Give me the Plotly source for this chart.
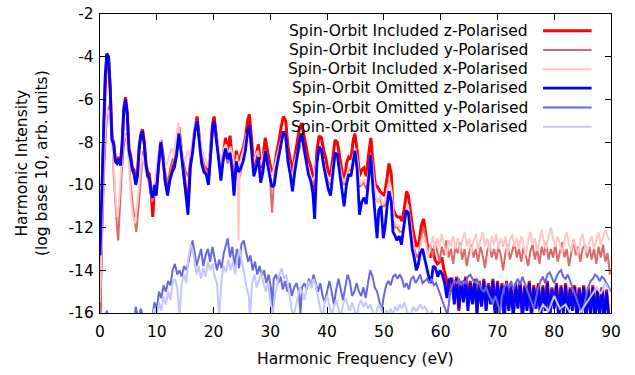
import plotly.graph_objects as go

# ---------------- data (eV, log10 intensity) ----------------
soi_z = [(0, -16), (0.2, -12.5), (0.5, -9), (0.9, -5.5), (1.2, -3.9), (1.5, -4.0), (1.8, -5.5), (2.1, -7.8),
         (2.4, -8.0), (2.7, -8.8), (3.0, -8.9), (3.3, -8.7), (3.6, -9.0), (3.9, -8.0), (4.2, -6.4), (4.5, -5.9),
         (4.8, -6.6), (5.1, -8.3), (5.4, -8.6), (5.7, -9.2), (6.0, -9.3), (6.3, -9.8), (6.6, -9.5), (6.9, -8.2),
         (7.2, -7.6), (7.5, -7.4), (7.8, -8.0), (8.1, -9.0), (8.4, -9.4), (8.7, -9.5), (9.0, -10.3), (9.3, -11.5),
         (9.6, -10.0), (9.9, -10.4), (10.3, -9.0), (10.7, -7.9), (11.1, -8.6), (11.5, -9.8), (11.9, -10.3),
         (12.3, -9.6), (12.7, -9.2), (13.1, -9.0), (13.5, -8.4), (13.9, -7.3), (14.3, -8.3), (14.7, -9.4),
         (15.1, -10.2), (15.5, -11.0), (15.9, -9.0), (16.3, -8.3), (16.7, -7.4), (17.1, -6.8), (17.5, -7.8),
         (17.9, -8.8), (18.3, -9.2), (18.7, -9.2), (19.1, -9.8), (19.5, -8.5), (19.8, -7.2), (20.1, -6.8),
         (20.5, -7.6), (20.9, -8.6), (21.3, -9.5), (21.7, -8.6), (22.1, -7.8), (22.5, -8.4), (22.9, -7.7),
         (23.3, -8.8), (23.6, -10.3), (24.0, -8.4), (24.4, -8.9), (24.8, -8.6), (25.2, -8.3), (25.6, -7.8),
         (26.0, -7.0), (26.3, -6.7), (26.7, -7.8), (27.1, -9.1), (27.5, -8.6), (27.9, -8.1), (28.3, -9.2),
         (28.7, -8.8), (29.1, -7.8), (29.5, -8.5), (29.9, -9.0), (30.3, -9.4), (30.7, -9.3), (31.1, -8.5),
         (31.5, -8.0), (31.9, -7.3), (32.3, -6.8), (32.7, -7.0), (33.1, -8.2), (33.5, -8.8), (33.9, -9.5),
         (34.3, -8.7), (34.7, -8.0), (35.1, -7.4), (35.5, -7.1), (35.9, -7.6), (36.3, -8.2), (36.7, -8.8),
         (37.1, -9.1), (37.5, -9.6), (37.8, -10.3), (38.2, -8.4), (38.6, -7.7), (39.0, -7.8), (39.4, -8.4),
         (39.8, -8.8), (40.2, -9.4), (40.6, -9.6), (41.0, -8.6), (41.4, -7.9), (41.8, -8.0), (42.2, -8.7),
         (42.6, -9.3), (43.0, -10.0), (43.4, -9.0), (43.8, -8.7), (44.2, -8.8), (44.6, -7.9), (44.9, -7.6),
         (45.3, -8.4), (45.7, -9.6), (46.1, -9.3), (46.5, -9.2), (46.9, -9.6), (47.3, -8.6), (47.7, -7.8),
         (48.1, -9.0), (48.5, -10.0), (48.9, -10.1), (49.3, -10.3), (49.7, -10.4), (50.1, -10.5), (50.5, -9.8),
         (50.9, -9.0), (51.3, -9.5), (51.6, -11.1), (52.0, -11.4), (52.4, -11.5), (52.8, -11.5), (53.2, -11.7),
         (53.6, -11.1), (54.0, -10.3), (54.3, -10.5), (54.7, -11.4), (55.0, -11.9), (55.4, -12.5), (55.8, -12.9),
         (56.2, -12.7), (56.6, -11.9), (57.0, -11.6), (57.4, -12.3), (57.8, -13.1), (58.2, -13.4), (58.6, -13.0),
         (59.0, -13.5), (59.4, -13.7), (59.8, -13.6), (60.2, -13.4), (60.6, -14.0), (61.0, -14.4), (61.4, -15.0),
         (61.8, -14.4),
         (62.0, -14.4), (62.4, -15.4), (62.8, -14.3), (63.2, -15.9), (63.6, -14.5), (64.0, -15.4), (64.4, -14.3),
         (64.8, -15.7), (65.2, -14.5), (65.6, -15.5), (66.0, -14.4), (66.4, -16.0), (66.8, -14.5), (67.2, -15.6),
         (67.6, -14.4), (68.0, -15.8), (68.4, -14.6), (68.8, -15.5), (69.2, -14.4), (69.6, -15.9), (70.0, -14.5),
         (70.4, -15.7), (70.8, -14.6), (71.2, -16.2), (71.6, -14.5), (72.0, -15.8), (72.4, -14.7), (72.8, -16.0),
         (73.2, -14.6), (73.6, -15.7), (74.0, -14.5), (74.4, -16.1), (74.8, -14.7), (75.2, -15.8), (75.6, -14.5),
         (76.0, -16.0), (76.4, -14.7), (76.8, -15.7), (77.2, -14.6), (77.6, -16.1), (78.0, -14.7), (78.4, -15.8),
         (78.8, -14.5), (79.2, -16.2), (79.6, -14.8), (80.0, -15.7), (80.4, -14.6), (80.8, -16.1), (81.2, -14.7),
         (81.6, -15.9), (82.0, -14.6), (82.4, -16.0), (82.8, -14.8), (83.2, -15.8), (83.6, -14.7), (84.0, -16.1),
         (84.4, -14.8), (84.8, -15.9), (85.2, -14.7), (85.6, -16.1), (86.0, -14.8), (86.4, -16.0), (86.8, -14.7),
         (87.2, -16.2), (87.6, -14.9), (88.0, -16.0), (88.4, -14.8), (88.8, -16.1), (89.2, -14.9), (89.6, -16.0)]

soi_y = [(0, -16), (0.3, -13.0), (0.7, -9.5), (1.1, -7.3), (1.5, -6.4), (1.8, -6.2), (2.1, -7.0), (2.4, -9.5),
         (2.7, -11.0), (3.0, -12.0), (3.2, -12.6), (3.5, -11.0), (3.8, -9.5), (4.2, -8.2), (4.6, -7.6), (5.0, -8.4),
         (5.4, -10.0), (5.8, -11.0), (6.2, -11.8), (6.4, -12.2), (6.8, -11.0), (7.2, -9.5), (7.6, -8.4), (8.0, -9.0),
         (8.4, -9.6), (8.8, -10.2), (9.2, -10.8), (9.6, -10.5), (10.0, -10.0), (10.4, -9.0), (10.8, -8.2),
         (11.2, -8.9), (11.6, -9.6), (12.0, -9.8), (12.4, -9.2), (12.8, -8.8), (13.2, -8.9), (13.6, -8.0),
         (13.9, -7.4), (14.3, -8.4), (14.7, -9.0), (15.1, -9.4), (15.5, -9.6), (15.9, -8.8), (16.3, -8.2),
         (16.7, -7.6), (17.1, -7.1), (17.5, -7.9), (17.9, -8.6), (18.3, -9.0), (18.7, -9.3), (19.1, -9.9),
         (19.5, -8.8), (19.8, -7.6), (20.1, -7.2), (20.5, -7.9), (20.9, -8.6), (21.3, -9.4), (21.7, -8.9),
         (22.1, -8.6), (22.5, -9.0), (22.9, -8.5), (23.3, -9.0), (23.6, -9.6), (24.0, -9.0), (24.4, -9.8),
         (24.8, -9.4), (25.2, -8.9), (25.6, -8.4), (26.0, -7.6), (26.3, -7.4), (26.7, -8.4), (27.1, -9.4),
         (27.5, -9.0), (27.9, -8.8), (28.3, -9.5), (28.7, -9.2), (29.1, -8.6), (29.5, -9.0), (29.9, -9.5),
         (30.3, -11.3), (30.7, -9.6), (31.1, -9.0), (31.5, -8.7), (31.9, -8.1), (32.3, -7.6), (32.7, -7.8),
         (33.1, -8.8), (33.5, -9.2), (33.9, -9.8), (34.3, -9.2), (34.7, -8.8), (35.1, -8.3), (35.5, -7.9),
         (35.9, -8.4), (36.3, -8.9), (36.7, -9.3), (37.1, -9.6), (37.5, -10.0), (37.8, -9.8), (38.2, -8.9),
         (38.6, -8.3), (39.0, -8.5), (39.4, -9.0), (39.8, -9.4), (40.2, -9.8), (40.6, -10.0), (41.0, -9.2),
         (41.4, -8.6), (41.8, -8.6), (42.2, -9.2), (42.6, -9.7), (43.0, -10.0), (43.4, -9.6), (43.8, -9.3),
         (44.2, -9.3), (44.6, -8.7), (44.9, -8.4), (45.3, -9.1), (45.7, -10.1), (46.1, -10.0), (46.5, -9.9),
         (46.9, -10.2), (47.3, -9.4), (47.7, -8.7), (48.1, -9.6), (48.5, -10.6), (48.9, -10.8), (49.3, -10.6),
         (49.7, -11.0), (50.1, -11.0), (50.5, -10.4), (50.9, -9.8), (51.3, -10.2), (51.6, -11.6), (52.0, -12.0),
         (52.4, -12.0), (52.8, -12.2), (53.2, -12.2), (53.6, -11.8), (54.0, -11.0), (54.3, -11.2), (54.7, -12.0),
         (55.0, -12.6), (55.4, -13.0), (55.8, -13.4), (56.2, -13.2), (56.6, -12.4), (57.0, -12.0), (57.4, -12.5),
         (57.8, -13.2), (58.2, -12.8), (58.6, -13.4), (59.0, -12.7), (59.4, -13.1), (59.8, -13.6), (60.2, -12.9),
         (60.6, -13.3), (61.0, -12.6), (61.4, -13.4), (61.8, -13.0), (62.2, -13.7), (62.6, -12.9), (63.0, -13.2),
         (63.4, -12.7), (63.8, -13.5), (64.2, -13.0), (64.6, -13.8), (65.0, -13.2), (65.4, -12.8), (65.8, -13.4),
         (66.2, -13.0), (66.6, -13.6), (67.0, -12.9), (67.4, -13.3), (67.8, -13.9), (68.2, -13.1), (68.6, -12.8),
         (69.0, -13.4), (69.4, -13.0), (69.8, -13.5), (70.2, -12.9), (70.6, -13.3), (71.0, -14.0), (71.4, -13.2),
         (71.8, -12.8), (72.2, -13.5), (72.6, -13.1), (73.0, -12.7), (73.4, -13.4), (73.8, -13.0), (74.2, -13.6),
         (74.6, -12.9), (75.0, -13.3), (75.4, -13.8), (75.8, -13.1), (76.2, -12.8), (76.6, -13.5), (77.0, -13.0),
         (77.4, -13.7), (77.8, -12.9), (78.2, -13.3), (78.6, -12.7), (79.0, -13.5), (79.4, -13.0), (79.8, -13.4),
         (80.2, -12.8), (80.6, -13.6), (81.0, -13.1), (81.4, -12.7), (81.8, -13.4), (82.2, -13.0), (82.6, -13.8),
         (83.0, -13.1), (83.4, -12.6), (83.8, -13.3), (84.2, -12.9), (84.6, -13.6), (85.0, -13.0), (85.4, -12.8),
         (85.8, -13.4), (86.2, -12.9), (86.6, -13.5), (87.0, -13.0), (87.4, -13.7), (87.8, -12.9), (88.2, -13.4),
         (88.6, -12.8), (89.0, -13.6), (89.4, -13.2), (89.8, -14.2)]

soi_x = [(0, -15.5), (0.3, -12.0), (0.7, -8.5), (1.1, -6.8), (1.5, -6.5), (1.8, -6.8), (2.1, -7.8), (2.4, -9.0),
         (2.7, -10.5), (3.0, -11.5), (3.3, -11.0), (3.6, -9.5), (3.9, -8.5), (4.3, -7.6), (4.7, -7.8), (5.1, -9.0),
         (5.4, -10.5), (5.8, -11.5), (6.2, -11.8), (6.6, -10.8), (7.0, -9.5), (7.4, -8.6), (7.8, -9.0), (8.2, -9.4),
         (8.6, -9.8), (9.0, -10.4), (9.4, -10.2), (9.8, -9.5), (10.2, -8.6), (10.6, -7.9), (11.0, -8.5),
         (11.4, -9.2), (11.8, -9.0), (12.2, -8.6), (12.6, -8.3), (13.0, -8.6), (13.4, -7.8), (13.8, -7.1),
         (14.2, -8.0), (14.6, -8.6), (15.0, -8.9), (15.4, -8.4), (15.8, -8.7), (16.2, -8.0), (16.6, -7.4),
         (17.0, -7.0), (17.4, -7.6), (17.8, -8.2), (18.2, -8.6), (18.6, -8.8), (19.0, -9.2), (19.4, -8.4),
         (19.8, -7.4), (20.2, -7.3), (20.6, -7.8), (21.0, -8.4), (21.4, -9.0), (21.8, -8.3), (22.2, -8.1),
         (22.6, -8.6), (23.0, -8.2), (23.4, -8.8), (23.8, -9.2), (24.2, -8.6), (24.4, -12.6), (24.6, -9.0),
         (25.0, -8.6), (25.4, -8.2), (25.8, -7.6), (26.2, -7.5), (26.6, -8.2), (27.0, -9.0), (27.4, -8.6),
         (27.8, -8.4), (28.2, -9.1), (28.6, -8.8), (29.0, -8.4), (29.4, -8.8), (29.8, -9.2), (30.2, -9.6),
         (30.6, -9.3), (31.0, -8.8), (31.4, -8.4), (31.8, -8.0), (32.2, -7.7), (32.6, -7.9), (33.0, -8.7),
         (33.4, -9.1), (33.8, -10.0), (34.2, -9.0), (34.6, -8.6), (35.0, -8.2), (35.4, -8.0), (35.8, -8.4),
         (36.2, -8.8), (36.6, -9.2), (37.0, -9.5), (37.4, -9.8), (37.8, -9.6), (38.2, -8.8), (38.6, -8.3),
         (39.0, -8.5), (39.4, -9.0), (39.8, -9.4), (40.2, -9.7), (40.6, -9.9), (41.0, -9.1), (41.4, -8.5),
         (41.8, -8.6), (42.2, -9.2), (42.6, -9.6), (43.0, -9.9), (43.4, -9.5), (43.8, -9.2), (44.2, -9.2),
         (44.6, -8.6), (45.0, -8.3), (45.4, -9.0), (45.8, -10.0), (46.2, -9.8), (46.6, -9.8), (47.0, -10.0),
         (47.4, -9.2), (47.8, -8.6), (48.2, -9.6), (48.6, -10.6), (49.0, -10.8), (49.4, -10.5), (49.8, -10.9),
         (50.2, -10.8), (50.6, -10.2), (51.0, -9.8), (51.4, -10.4), (51.8, -11.6), (52.2, -11.9), (52.6, -11.9),
         (53.0, -12.0), (53.4, -12.0), (53.8, -11.4), (54.2, -10.9), (54.6, -11.6), (55.0, -12.4), (55.4, -13.2),
         (55.8, -14.0), (56.2, -13.5), (56.6, -12.6), (57.0, -12.4), (57.4, -12.8), (57.8, -13.4), (58.2, -12.9),
         (58.6, -12.4), (59.0, -13.0), (59.4, -12.5), (59.8, -12.9), (60.2, -12.3), (60.6, -12.8), (61.0, -13.3),
         (61.4, -12.6), (61.8, -12.9), (62.2, -12.4), (62.6, -13.0), (63.0, -12.5), (63.4, -13.1), (63.8, -12.6),
         (64.2, -12.2), (64.6, -12.9), (65.0, -12.5), (65.4, -13.2), (65.8, -12.6), (66.2, -12.3), (66.6, -13.0),
         (67.0, -12.6), (67.4, -12.2), (67.8, -12.9), (68.2, -12.5), (68.6, -13.1), (69.0, -12.4), (69.4, -12.8),
         (69.8, -12.3), (70.2, -13.0), (70.6, -12.5), (71.0, -12.9), (71.4, -12.4), (71.8, -13.2), (72.2, -12.6),
         (72.6, -12.3), (73.0, -12.9), (73.4, -12.5), (73.8, -13.0), (74.2, -12.4), (74.6, -12.8), (75.0, -13.3),
         (75.4, -12.6), (75.8, -12.2), (76.2, -12.8), (76.6, -12.5), (77.0, -13.1), (77.4, -12.6), (77.8, -12.1),
         (78.2, -12.7), (78.6, -13.0), (79.0, -12.4), (79.4, -12.0), (79.8, -12.5), (80.2, -12.9), (80.6, -12.4),
         (81.0, -12.8), (81.4, -13.2), (81.8, -12.6), (82.2, -12.2), (82.6, -12.8), (83.0, -13.1), (83.4, -12.5),
         (83.8, -12.9), (84.2, -13.3), (84.6, -12.6), (85.0, -12.3), (85.4, -12.9), (85.8, -13.2), (86.2, -12.7),
         (86.6, -12.4), (87.0, -13.0), (87.4, -12.6), (87.8, -12.2), (88.2, -12.8), (88.6, -12.5), (89.0, -12.1),
         (89.4, -12.4), (89.8, -12.6)]

soo_z = [(0, -13.3), (0.3, -10.5), (0.6, -7.5), (0.9, -5.0), (1.2, -3.85), (1.5, -4.0), (1.8, -5.5), (2.1, -7.9),
         (2.4, -8.1), (2.7, -8.9), (3.0, -9.0), (3.3, -8.8), (3.6, -9.1), (3.9, -8.2), (4.2, -6.5), (4.5, -6.0),
         (4.8, -6.7), (5.1, -8.4), (5.4, -8.8), (5.7, -9.3), (6.0, -9.5), (6.3, -10.0), (6.6, -9.6), (6.9, -8.3),
         (7.2, -7.7), (7.5, -7.5), (7.8, -8.1), (8.1, -9.1), (8.4, -9.6), (8.7, -9.7), (9.0, -10.4), (9.3, -10.6),
         (9.6, -10.0), (9.9, -10.5), (10.3, -9.1), (10.7, -8.0), (11.1, -8.8), (11.5, -9.9), (11.9, -10.5),
         (12.3, -9.8), (12.7, -9.4), (13.1, -9.2), (13.5, -8.6), (13.9, -7.6), (14.3, -8.5), (14.7, -9.6),
         (15.1, -10.4), (15.5, -11.4), (15.9, -9.2), (16.3, -8.5), (16.7, -7.5), (17.1, -7.0), (17.5, -8.0),
         (17.9, -9.0), (18.3, -9.4), (18.7, -9.5), (19.1, -10.0), (19.5, -8.7), (19.8, -7.4), (20.1, -7.0),
         (20.5, -7.8), (20.9, -8.8), (21.3, -9.8), (21.7, -8.8), (22.1, -8.3), (22.5, -8.8), (22.9, -8.5),
         (23.3, -9.4), (23.6, -10.5), (24.0, -8.9), (24.4, -9.4), (24.8, -9.2), (25.2, -8.9), (25.6, -8.4),
         (26.0, -7.5), (26.3, -7.2), (26.7, -8.4), (27.1, -9.6), (27.5, -9.2), (27.9, -8.7), (28.3, -9.9),
         (28.7, -9.4), (29.1, -8.4), (29.5, -9.1), (29.9, -9.6), (30.3, -10.1), (30.7, -10.0), (31.1, -9.2),
         (31.5, -8.6), (31.9, -8.0), (32.3, -7.5), (32.7, -7.7), (33.1, -8.9), (33.5, -9.5), (33.9, -10.3),
         (34.3, -9.4), (34.7, -8.6), (35.1, -8.0), (35.5, -7.6), (35.9, -8.2), (36.3, -8.9), (36.7, -9.5),
         (37.1, -9.8), (37.5, -10.4), (37.8, -11.6), (38.2, -9.0), (38.6, -8.2), (39.0, -8.4), (39.4, -9.1),
         (39.8, -9.6), (40.2, -10.2), (40.6, -10.5), (41.0, -9.4), (41.4, -8.5), (41.8, -8.6), (42.2, -9.4),
         (42.6, -10.1), (43.0, -11.0), (43.4, -10.0), (43.8, -9.5), (44.2, -9.6), (44.6, -8.8), (44.9, -8.4),
         (45.3, -9.3), (45.7, -11.4), (46.1, -10.8), (46.5, -10.6), (46.9, -10.9), (47.3, -9.6), (47.7, -8.6),
         (48.1, -10.3), (48.5, -11.6), (48.8, -12.5), (49.1, -11.2), (49.5, -11.0), (49.9, -12.5), (50.2, -12.0),
         (50.6, -10.9), (50.9, -10.3), (51.3, -10.8), (51.6, -12.2), (52.0, -12.4), (52.3, -12.6), (52.7, -12.4),
         (53.1, -12.8), (53.5, -12.0), (53.9, -11.2), (54.3, -11.3), (54.6, -12.2), (55.0, -13.0), (55.4, -13.5),
         (55.7, -14.0), (56.0, -13.8), (56.4, -13.2), (56.8, -13.0), (57.1, -13.4), (57.5, -13.9), (57.9, -14.3),
         (58.3, -14.6), (58.7, -13.8), (59.1, -13.9), (59.5, -14.3), (59.9, -14.0), (60.3, -14.2), (60.7, -14.6),
         (61.1, -15.3), (61.5, -14.4),
         (62.0, -14.5), (62.4, -15.6), (62.8, -14.4), (63.2, -15.8), (63.6, -14.6), (64.0, -15.5), (64.4, -14.4),
         (64.8, -15.9), (65.2, -14.6), (65.6, -15.6), (66.0, -14.5), (66.4, -16.0), (66.8, -14.6), (67.2, -15.7),
         (67.6, -14.5), (68.0, -15.9), (68.4, -14.7), (68.8, -15.6), (69.2, -14.5), (69.6, -16.1), (70.0, -14.6),
         (70.4, -15.8), (70.8, -14.7), (71.2, -16.3), (71.6, -14.6), (72.0, -15.9), (72.4, -14.8), (72.8, -16.2),
         (73.2, -14.7), (73.6, -15.8), (74.0, -14.6), (74.4, -16.3), (74.8, -14.8), (75.2, -15.9), (75.6, -14.6),
         (76.0, -16.2), (76.4, -14.8), (76.8, -15.8), (77.2, -14.7), (77.6, -16.3), (78.0, -14.8), (78.4, -15.9),
         (78.8, -14.6), (79.2, -16.2), (79.6, -14.9), (80.0, -15.8), (80.4, -14.7), (80.8, -16.3), (81.2, -14.8),
         (81.6, -16.0), (82.0, -14.7), (82.4, -16.2), (82.8, -14.9), (83.2, -15.9), (83.6, -14.8), (84.0, -16.3),
         (84.4, -14.9), (84.8, -16.0), (85.2, -14.8), (85.6, -16.3), (86.0, -14.9), (86.4, -16.1), (86.8, -14.8),
         (87.2, -16.3), (87.6, -15.0), (88.0, -16.1), (88.4, -14.9), (88.8, -16.3), (89.2, -15.0), (89.6, -16.2)]

soo_y = [(0, -17), (0.8, -16.3), (1.2, -15.9), (1.6, -16.3), (2.0, -17), (5.8, -17), (6.3, -15.7), (6.7, -16.3),
         (7.2, -15.8), (7.7, -16.3), (8.4, -17), (9.2, -16.2), (9.6, -15.5), (10.0, -15.8), (10.4, -15.0),
         (10.8, -15.3), (11.2, -14.7), (11.6, -15.0), (12.0, -14.5), (12.4, -14.7), (12.8, -14.0), (13.2, -13.7),
         (13.6, -14.2), (14.0, -14.0), (14.4, -14.3), (14.8, -13.8), (15.2, -14.0), (15.6, -13.6), (16.0, -13.0),
         (16.3, -12.6), (16.7, -13.2), (17.0, -13.8), (17.4, -13.4), (17.8, -13.0), (18.2, -13.8), (18.6, -13.3),
         (19.0, -13.0), (19.4, -13.6), (19.8, -12.9), (20.2, -13.4), (20.6, -14.0), (21.0, -13.5), (21.4, -13.9),
         (21.8, -13.2), (22.2, -12.8), (22.5, -12.5), (22.9, -13.4), (23.3, -12.9), (23.7, -13.8), (24.1, -13.0),
         (24.5, -13.9), (24.9, -12.8), (25.3, -12.6), (25.7, -13.2), (26.1, -13.6), (26.5, -13.3), (26.9, -14.0),
         (27.3, -13.6), (27.7, -14.2), (28.1, -13.8), (28.5, -14.3), (28.9, -14.0), (29.3, -14.6), (29.7, -14.2),
         (30.1, -14.8), (30.3, -16.0), (30.6, -14.4), (31.0, -14.2), (31.4, -14.6), (31.8, -14.3), (32.2, -14.9),
         (32.6, -14.5), (33.0, -15.0), (33.4, -14.6), (33.8, -15.2), (34.2, -14.8), (34.6, -14.6), (35.0, -15.0),
         (35.3, -16.0), (35.6, -14.8), (36.0, -14.6), (36.4, -14.9), (36.8, -14.4), (37.2, -14.8), (37.6, -14.2),
         (38.0, -14.6), (38.4, -15.0), (38.8, -14.6), (39.2, -15.2), (39.6, -15.5), (40.0, -14.9), (40.4, -14.5),
         (40.8, -15.0), (41.2, -15.6), (41.6, -14.9), (42.0, -14.4), (42.4, -14.9), (42.8, -15.4), (43.2, -14.8),
         (43.6, -14.2), (44.0, -14.5), (44.4, -15.2), (44.8, -15.0), (45.2, -14.6), (45.6, -15.0), (46.0, -15.2),
         (46.4, -14.8), (46.8, -15.3), (47.2, -14.6), (47.6, -14.0), (48.0, -14.3), (48.4, -14.8), (48.8, -15.0),
         (49.2, -15.4), (49.6, -15.9), (50.0, -15.2), (50.4, -14.7), (50.8, -14.5), (51.2, -14.7), (51.6, -14.3),
         (52.0, -14.2), (52.4, -14.4), (52.8, -14.2), (53.2, -14.4), (53.6, -14.8), (54.0, -14.6), (54.4, -14.9),
         (54.8, -14.4), (55.2, -14.3), (55.6, -14.6), (56.0, -14.4), (56.4, -14.2), (56.8, -14.6), (57.2, -14.5),
         (57.6, -14.4), (58.0, -14.6), (58.4, -14.4), (58.8, -14.7), (59.2, -14.6), (59.6, -14.9), (60.0, -15.2),
         (60.4, -15.5), (60.8, -15.9), (61.2, -16.1), (61.6, -15.2), (62.0, -14.7), (62.4, -14.5), (62.8, -14.6),
         (63.2, -14.4), (63.6, -14.7), (64.0, -14.5), (64.4, -14.6), (64.8, -14.3), (65.2, -14.2), (65.6, -14.4),
         (66.0, -14.6), (66.4, -14.4), (66.8, -14.7), (67.2, -14.9), (67.6, -15.0), (68.0, -14.8), (68.4, -15.1),
         (68.8, -15.3), (69.2, -15.6), (69.6, -15.2), (70.0, -15.5), (70.4, -16.1), (70.8, -15.2), (71.2, -14.8),
         (71.6, -14.6), (72.0, -14.8), (72.4, -14.5), (72.8, -14.9), (73.2, -14.6), (73.6, -14.4), (74.0, -14.7),
         (74.4, -14.3), (74.8, -14.6), (75.2, -14.9), (75.6, -15.2), (76.0, -15.5), (76.4, -15.8), (76.8, -15.3),
         (77.2, -14.8), (77.6, -14.5), (78.0, -14.3), (78.4, -14.6), (78.8, -14.2), (79.2, -14.1), (79.6, -14.4),
         (80.0, -14.6), (80.4, -14.3), (80.8, -14.1), (81.2, -14.0), (81.6, -14.3), (82.0, -14.4), (82.4, -14.2),
         (82.8, -14.5), (83.2, -14.8), (83.6, -15.0), (84.0, -15.3), (84.4, -15.6), (84.8, -16.0), (85.2, -15.7),
         (85.6, -15.2), (86.0, -14.8), (86.4, -14.5), (86.8, -14.4), (87.2, -14.2), (87.6, -14.3), (88.0, -14.5),
         (88.4, -14.3), (88.8, -14.4), (89.2, -14.6), (89.6, -14.8), (90.0, -15.0)]

soo_x = [(9.0, -16.5), (9.6, -15.8), (10.0, -16.2), (10.4, -15.5), (10.8, -15.9), (11.2, -15.2), (11.6, -15.6),
         (12.0, -15.0), (12.4, -15.4), (12.8, -14.6), (13.2, -14.4), (13.6, -14.8), (14.0, -16.2), (14.4, -14.6),
         (14.8, -14.2), (15.2, -14.6), (15.6, -13.4), (16.0, -12.8), (16.3, -13.0), (16.7, -13.8), (17.0, -14.2),
         (17.4, -13.8), (17.8, -14.4), (18.2, -13.9), (18.6, -14.3), (19.0, -13.6), (19.4, -14.0), (19.8, -13.7),
         (20.2, -14.3), (20.6, -14.6), (21.0, -16.2), (21.4, -14.4), (21.8, -13.8), (22.2, -14.1), (22.6, -13.5),
         (23.0, -14.0), (23.4, -13.6), (23.8, -14.2), (24.2, -13.4), (24.6, -13.0), (25.0, -13.6), (25.4, -14.2),
         (25.8, -14.8), (26.2, -15.2), (26.4, -16.2), (26.8, -14.6), (27.2, -14.2), (27.6, -14.8), (28.0, -14.4),
         (28.4, -14.1), (28.8, -14.6), (29.2, -15.0), (29.6, -14.6), (30.0, -15.3), (30.4, -16.2), (30.8, -15.2),
         (31.2, -14.6), (31.6, -14.2), (32.0, -13.9), (32.4, -14.4), (32.8, -14.2), (33.2, -14.8), (33.6, -15.5),
         (34.0, -16.2), (34.4, -15.8), (34.8, -15.2), (35.2, -14.8), (35.6, -15.0), (36.0, -15.4), (36.4, -14.8),
         (36.8, -14.5), (37.2, -14.8), (37.6, -14.4), (38.0, -14.7), (38.4, -15.3), (38.8, -15.8), (39.2, -16.2),
         (39.6, -15.5), (40.0, -15.2), (40.4, -15.6), (40.8, -16.1), (41.2, -15.7), (41.6, -15.4), (42.0, -15.8),
         (42.4, -16.2), (42.8, -15.6), (43.2, -15.3), (43.6, -15.6), (44.0, -15.9), (44.4, -15.5), (44.8, -15.8),
         (45.2, -16.2), (45.6, -15.6), (46.0, -15.4), (46.4, -15.7), (46.8, -15.5), (47.2, -15.8), (47.6, -15.6),
         (48.0, -15.9), (48.4, -16.3), (48.8, -15.8), (49.2, -15.6), (49.6, -15.9), (50.0, -16.3), (50.4, -15.9),
         (50.8, -16.0), (51.2, -15.8), (51.6, -16.1), (52.0, -15.7), (52.4, -15.9), (52.8, -15.6), (53.2, -15.8),
         (53.6, -15.5), (54.0, -15.8), (54.4, -16.2), (54.8, -16.0), (55.2, -15.7), (55.6, -15.9), (56.0, -15.8),
         (56.4, -15.6), (56.8, -15.8), (57.2, -15.7), (57.6, -15.9), (58.0, -16.2), (58.4, -15.9), (58.8, -16.3),
         (59.2, -17.0), (76.0, -17.0), (77.0, -16.2), (78.0, -15.6), (79.0, -15.9), (80.0, -15.2), (81.0, -15.8),
         (82.0, -15.6), (83.0, -16.1), (84.0, -16.3), (85.0, -15.8), (86.0, -15.4), (87.0, -15.0), (87.5, -14.8),
         (88.2, -15.1), (89.0, -14.6), (89.8, -15.0)]

series_names = ["Spin-Orbit Included z-Polarised", "Spin-Orbit Included y-Polarised",
                "Spin-Orbit Included x-Polarised", "Spin-Orbit Omitted z-Polarised",
                "Spin-Orbit Omitted y-Polarised", "Spin-Orbit Omitted x-Polarised"]
series_data = [soi_z, soi_y, soi_x, soo_z, soo_y, soo_x]
x_ticks = [0, 10, 20, 30, 40, 50, 60, 70, 80, 90]
y_ticks = [-2, -4, -6, -8, -10, -12, -14, -16]

# ---------------- styling ----------------
colors = ["#ff0000", "#dc6868", "#ffc6c6", "#0000ff", "#6868dc", "#c6c6ff"]
widths = [3.0, 2.0, 2.0, 2.8, 2.0, 2.0]
FONT = "DejaVu Sans"
FS = 15.5

fig = go.Figure()
for name, data, c, w in zip(series_names, series_data, colors, widths):
    xs = [p[0] for p in data]
    ys = [p[1] for p in data]
    fig.add_trace(go.Scatter(x=xs, y=ys, mode="lines", name=name,
                             line=dict(color=c, width=w), showlegend=False))

# gnuplot-style legend: right-aligned text with sample line to the right
row_y = [0.944, 0.880, 0.815, 0.752, 0.687, 0.623]
for name, c, w, yy in zip(series_names, colors, widths, row_y):
    fig.add_annotation(x=0.842, y=yy, xref="paper", yref="paper", text=name, showarrow=False,
                       xanchor="right", yanchor="middle", font=dict(family=FONT, size=FS, color="black"))
    fig.add_shape(type="line", xref="paper", yref="paper", x0=0.867, x1=0.962, y0=yy, y1=yy,
                  line=dict(color=c, width=w))

# axis titles
fig.add_annotation(x=-0.134, y=0.5, xref="paper", yref="paper", textangle=-90, showarrow=False,
                   text="Harmonic Intensity<br>(log base 10, arb. units)",
                   xanchor="center", yanchor="middle", font=dict(family=FONT, size=FS, color="black"))
fig.add_annotation(x=0.5, y=-0.153, xref="paper", yref="paper", showarrow=False,
                   text="Harmonic Frequency (eV)",
                   xanchor="center", yanchor="middle", font=dict(family=FONT, size=FS, color="black"))

axis_common = dict(showline=True, linecolor="black", linewidth=1.3, mirror="ticks", ticks="inside",
                   ticklen=6, tickcolor="black", tickwidth=1, showgrid=False, zeroline=False,
                   automargin=False, tickfont=dict(family=FONT, size=FS, color="black"))

fig.update_layout(
    width=635, height=375,
    margin=dict(l=100, r=24, t=14, b=62),
    paper_bgcolor="white", plot_bgcolor="white",
    xaxis=dict(range=[0, 90], tickvals=x_ticks, ticklabelstandoff=4, **axis_common),
    yaxis=dict(range=[-16, -2], tickvals=y_ticks, ticktext=[str(v) for v in y_ticks],
               ticklabelstandoff=2, **axis_common),
    font=dict(family=FONT, color="black"),
)

# remove the browser's default 8px page margin so the figure sits at the window origin
fig.write_html("out.html", config={"displayModeBar": False},
               post_script="document.body.style.margin='0px';")
